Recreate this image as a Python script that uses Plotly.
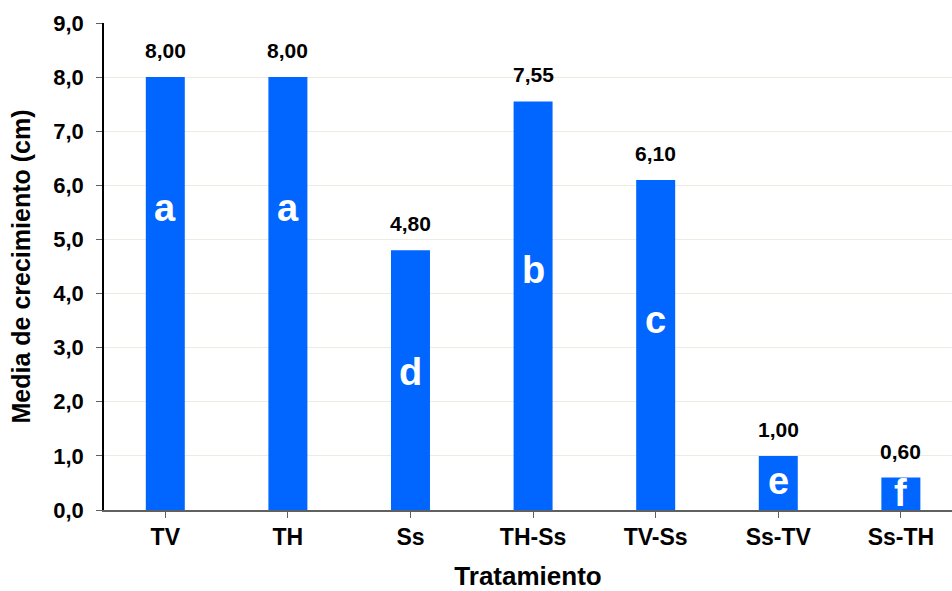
import plotly.graph_objects as go

categories = ["TV", "TH", "Ss", "TH-Ss", "TV-Ss", "Ss-TV", "Ss-TH"]
values = [8.00, 8.00, 4.80, 7.55, 6.10, 1.00, 0.60]
letters = ["a", "a", "d", "b", "c", "e", "f"]
letter_y = [5.58, 5.58, 2.55, 4.43, 3.51, 0.54, 0.31]

FONT = "Liberation Sans, Arial, sans-serif"

fig = go.Figure()
fig.add_trace(go.Bar(
    x=list(range(len(categories))), y=values,
    width=0.318,
    marker=dict(color="#0066FF", line=dict(width=0)),
    cliponaxis=False,
))

for i, v in enumerate(values):
    fig.add_annotation(x=i, y=v, text=f"{v:.2f}".replace(".", ","), showarrow=False,
                       yanchor="bottom", yshift=13,
                       font=dict(family=FONT, size=21, color="black", weight="bold"))

for i, (lt, ly) in enumerate(zip(letters, letter_y)):
    fig.add_annotation(x=i, y=ly, text=lt, showarrow=False,
                       font=dict(family=FONT, size=38, color="white", weight="bold"))

fig.update_layout(
    width=952, height=591,
    margin=dict(l=104, r=0, t=23, b=81),
    paper_bgcolor="white", plot_bgcolor="white",
    separators=",.",
    showlegend=False,
    font=dict(family=FONT, color="black"),
    xaxis=dict(
        tickmode="array", tickvals=list(range(len(categories))), ticktext=categories,
        range=[-0.5, 6.417],
        tickfont=dict(family=FONT, size=23, weight="bold"),
        showline=True, linecolor="#606060", linewidth=1.5,
        ticks="outside", ticklen=6, tickcolor="#606060", tickson="boundaries",
        showgrid=False, automargin=False,
        title=dict(text="Tratamiento", font=dict(family=FONT, size=26, weight="bold"), standoff=22),
    ),
    yaxis=dict(
        range=[0, 9], dtick=1, tickformat=".1f",
        tickfont=dict(family=FONT, size=22, weight="bold"),
        showline=True, linecolor="black", linewidth=1.5,
        ticks="outside", ticklen=6, tickcolor="#606060",
        ticklabelstandoff=8,
        showgrid=True, gridcolor="#EDEBE2", gridwidth=1,
        zeroline=False, automargin=False,
        title=dict(text="Media de crecimiento (cm)", font=dict(family=FONT, size=25, weight="bold"), standoff=16),
    ),
)

fig.write_html("out.html", config={"displayModeBar": False},
               post_script="document.body.style.margin='0';document.body.style.overflow='hidden';")
